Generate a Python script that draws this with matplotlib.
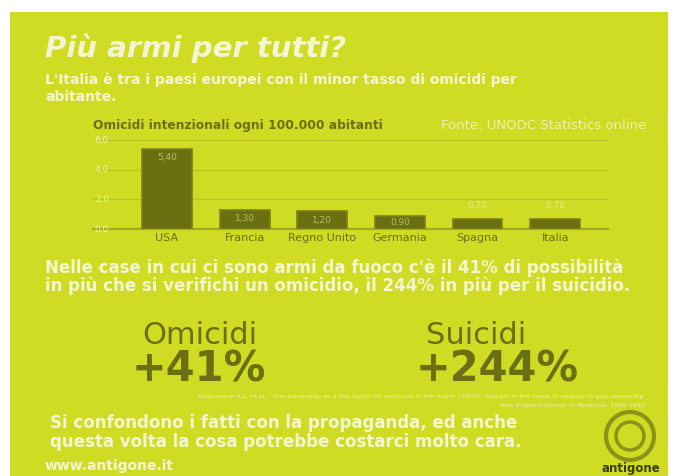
import matplotlib.pyplot as plt
from matplotlib.patches import Rectangle, Circle

# data
paesi = ['USA', 'Francia', 'Regno Unito', 'Germania', 'Spagna', 'Italia']
omicidi = [5.4, 1.3, 1.2, 0.9, 0.7, 0.7]
yticks = [0, 2, 4, 6]
aumento_omicidi = '+41%'
aumento_suicidi = '+244%'

bg = '#d0db24'
scuro = '#6a6f12'
chiaro = '#f4f6d2'
W, H = 677, 476

def px(x, y):
    return x / W, 1 - y / H

fig = plt.figure(figsize=(W / 100, H / 100), dpi=100)
fig.patch.set_facecolor('white')
fig.patches.append(Rectangle(px(10, 476), 658 / W, 464 / H, transform=fig.transFigure,
                             facecolor=bg, edgecolor='none', zorder=-10))

# testi in alto
fig.text(*px(45, 57), 'Più armi per tutti?', color=chiaro, fontsize=21, fontweight='bold',
         fontstyle='italic', va='baseline')
fig.text(*px(45, 84), "L'Italia è tra i paesi europei con il minor tasso di omicidi per",
         color=chiaro, fontsize=10, fontweight='bold', va='baseline')
fig.text(*px(45, 101), 'abitante.', color=chiaro, fontsize=10, fontweight='bold', va='baseline')

fig.text(*px(93, 129), 'Omicidi intenzionali ogni 100.000 abitanti', color=scuro, fontsize=8.8,
         fontweight='bold', va='baseline')
fig.text(*px(646, 129), 'Fonte: UNODC Statistics online', color='#eef2b0', fontsize=9.5,
         ha='right', va='baseline')

# grafico
ax = fig.add_axes([93 / W, 1 - 229 / H, (608 - 93) / W, (229 - 140) / H])
ax.set_facecolor('none')
x = range(len(paesi))
bars = ax.bar(x, omicidi, width=0.64, color=scuro, edgecolor='#7d8218', linewidth=1.2, zorder=3)
ax.set_xlim(-0.954, len(paesi) - 1 + 0.68)
ax.set_ylim(0, 6)
ax.set_yticks(yticks)
ax.set_yticklabels([])
ax.yaxis.set_tick_params(length=0)
for t in yticks:
    ax.text(-0.93, t, f'{t:.1f}'.replace('.', ','), ha='left', va='center',
            fontsize=6.5, color='#eef2b0', zorder=4)
ax.set_xticks(list(x))
ax.set_xticklabels(paesi, color=scuro, fontsize=8)
ax.xaxis.set_tick_params(length=0, pad=3)
ax.grid(axis='y', color='#bcc524', linewidth=1)
for s in ['top', 'right', 'left']:
    ax.spines[s].set_visible(False)
ax.spines['bottom'].set_color('#a2a91c')
ax.spines['bottom'].set_linewidth(1.5)
for i, v in enumerate(omicidi):
    testo = f'{v:.2f}'.replace('.', ',')
    if v >= 0.85:
        ax.text(i, max(v - 0.6, v / 2), testo, ha='center', va='center', fontsize=6.5,
                color='#b9bd68', zorder=4)
    else:
        ax.text(i, v + 0.6, testo, ha='center', va='bottom', fontsize=6.5, color='#e4ea90', zorder=4)

# secondo paragrafo
fig.text(*px(45, 273), "Nelle case in cui ci sono armi da fuoco c'è il 41% di possibilità",
         color=chiaro, fontsize=12, fontweight='bold', va='baseline')
fig.text(*px(45, 291), 'in più che si verifichi un omicidio, il 244% in più per il suicidio.',
         color=chiaro, fontsize=12, fontweight='bold', va='baseline')

fig.text(*px(200, 344), 'Omicidi', color=scuro, fontsize=22, ha='center', va='baseline')
fig.text(*px(199, 382), aumento_omicidi, color=scuro, fontsize=30, fontweight='bold',
         ha='center', va='baseline')
fig.text(*px(476, 344), 'Suicidi', color=scuro, fontsize=22, ha='center', va='baseline')
fig.text(*px(497, 382), aumento_suicidi, color=scuro, fontsize=30, fontweight='bold',
         ha='center', va='baseline')

fig.text(*px(645, 398), "Kellermann A.L. et al., 'Gun ownership as a risk factor for homicide in the home' (1993); 'Suicide in the home in relation to gun ownership'",
         color='#eef2b0', fontsize=4.6, ha='right', va='baseline')
fig.text(*px(645, 407), 'New England Journal of Medicine, 1992-1993',
         color='#eef2b0', fontsize=4.6, ha='right', va='baseline')

# chiusura
fig.text(*px(50, 428), 'Si confondono i fatti con la propaganda, ed anche',
         color=chiaro, fontsize=12, fontweight='bold', va='baseline')
fig.text(*px(50, 447), 'questa volta la cosa potrebbe costarci molto cara.',
         color=chiaro, fontsize=12, fontweight='bold', va='baseline')
fig.text(*px(45, 470), 'www.antigone.it', color=chiaro, fontsize=10, fontweight='bold', va='baseline')

# logo
lx, ly = 630, H - 436
fig.patches.append(Circle((lx, ly), 24, transform=None, facecolor='none',
                          edgecolor='#8c9218', linewidth=3))
fig.patches.append(Circle((lx, ly), 14, transform=None, facecolor='none',
                          edgecolor='#8c9218', linewidth=2.5))
fig.text(*px(631, 475), 'antigone', color='#3c3e08', fontsize=8.5, fontweight='bold',
         ha='center', va='bottom')

fig.savefig('out.png', dpi=100, facecolor=fig.get_facecolor())
